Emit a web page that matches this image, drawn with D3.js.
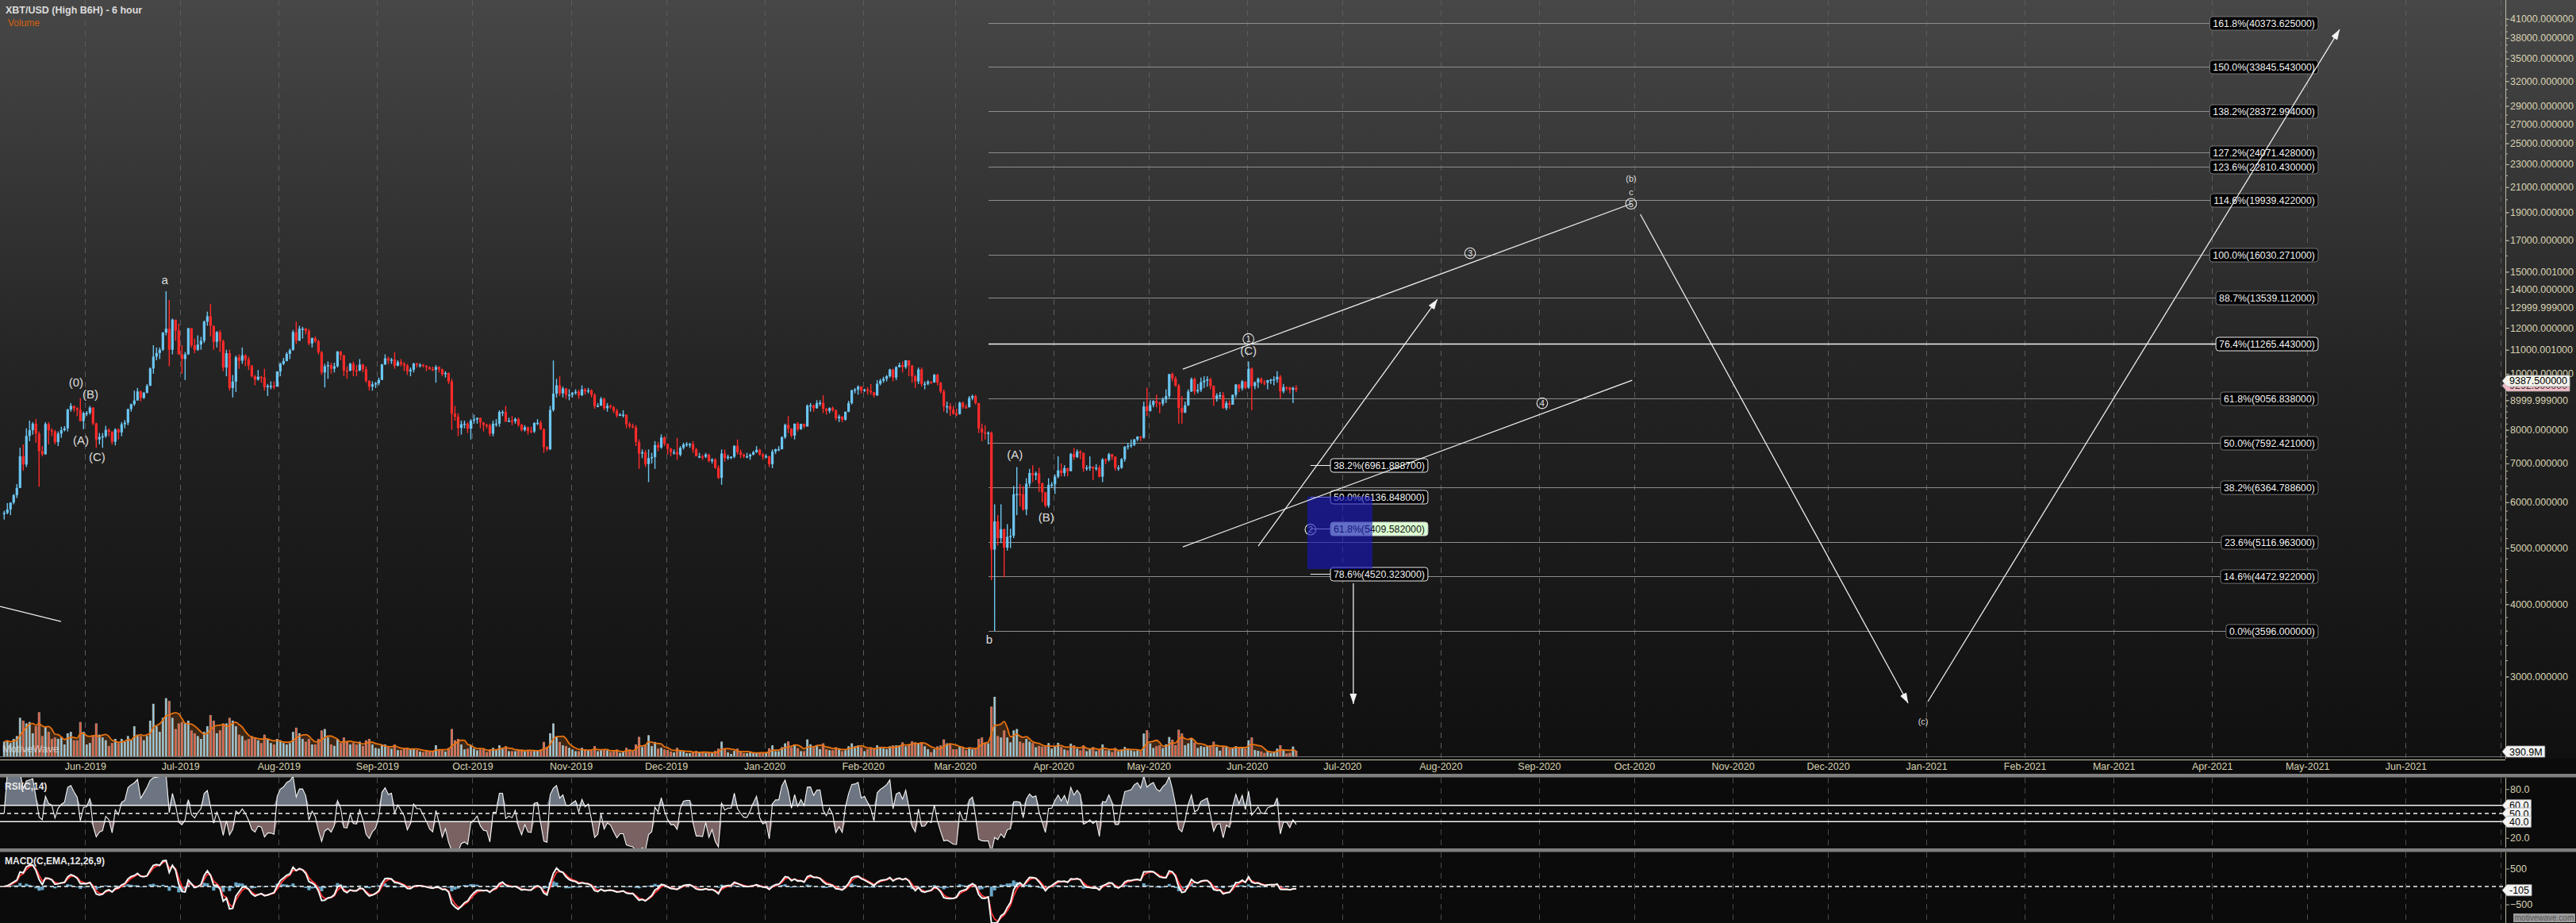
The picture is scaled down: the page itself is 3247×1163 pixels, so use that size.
<!DOCTYPE html>
<html><head><meta charset="utf-8">
<script src="https://cdnjs.cloudflare.com/ajax/libs/d3/7.8.5/d3.min.js"></script>
<style>
html,body{margin:0;padding:0;background:#0b0b0b;overflow:hidden}
svg{display:block}
text{font-family:"Liberation Sans",Arial,sans-serif}
</style></head><body>
<svg id="chart" width="3247" height="1163"></svg>
<script>
// ---------------- DATA (daily rows: [high, low, close, volume(M)]) ----------------
const bars2019May=[[5800,5600,5750,1100],[5980,5720,5830,1200],[6000,5700,5990,1000],[6200,5950,6170,1300],[6450,6100,6350,1500],[7450,6350,7200,2800],[7550,6800,6970,2600],[8050,6900,7810,2400],[8300,7650,7990,2500],[8250,7850,8200,1700],[8350,7600,7880,2200],[7950,6380,7350,3200],[7500,7200,7260,1500],[8250,7250,8190,2200],[8250,7550,7990,1800],[8050,7800,7950,1300],[8000,7550,7620,1400],[7950,7500,7880,1300],[8100,7750,7990,1400],[8120,7950,8050,900],[8700,7950,8670,1700],[8900,8600,8800,1800],[8800,8600,8720,1200],[8750,8450,8660,1200],[9070,8300,8280,2500],[8600,8020,8550,1800]];
const bars2019Jun=[[8620,8450,8560,900],[8800,8500,8740,1000],[8750,8150,8210,1500],[8230,7450,7700,2400],[7900,7550,7780,1600],[7900,7450,7800,1400],[8130,7750,8000,1200],[8050,7800,7940,800],[7960,7550,7630,1000],[8050,7520,8010,1300],[8050,7700,7920,1000],[8250,7800,8180,1300],[8320,8050,8230,1100],[8700,8150,8690,1500],[8880,8600,8860,1200],[9350,8800,8990,2200],[9450,8990,9320,1600],[9350,8950,9080,1500],[9300,9050,9270,1200],[9600,9250,9530,1500],[10250,9530,10210,2600],[11200,10000,10700,3800],[11100,10550,10860,2200],[11100,10600,11000,1800],[11800,10950,11780,2800],[13880,11650,11960,4200],[13400,10300,11000,4000],[12450,10800,12400,2800],[12300,11400,11870,2000],[12200,10800,10800,2400]];
const bars2019Jul=[[11200,10000,10600,2500],[10900,9750,10800,2400],[12000,10780,11980,2600],[12000,11100,11200,1900],[11500,10850,11000,1700],[11650,10950,11230,1500],[11580,11000,11400,1300],[12350,11300,12300,1800],[12800,12100,12570,2200],[13200,11600,12100,3000],[12100,11000,11350,2600],[11850,11100,11800,1700],[11900,10900,11390,1900],[11450,10100,10250,2400],[11000,9900,10850,2400],[11000,9350,9450,2800],[9950,9100,9690,2600],[10750,9300,10670,2200],[10800,10200,10530,1600],[11100,10400,10760,1500],[10800,10300,10590,1200],[10700,10150,10330,1300],[10350,9850,9900,1500],[9950,9550,9770,1400],[10150,9730,9880,1200],[9900,9650,9850,1000],[10200,9350,9480,1600],[9600,9150,9530,1300],[9700,9400,9530,1000],[9700,9400,9500,900],[10100,9500,10090,1300]];
const bars2019Aug=[[10450,9900,10400,1200],[10650,10350,10520,1000],[10900,10500,10820,900],[11050,10600,10980,1000],[11900,10980,11800,1800],[12300,11250,11400,2100],[12100,11400,11960,1700],[12050,11500,11960,1300],[12000,11700,11850,1100],[11950,11200,11280,1300],[11550,11100,11520,900],[11600,11300,11380,900],[11450,10800,10890,1300],[10950,9950,10050,1900],[10400,9470,10300,2000],[10500,9800,10350,1400],[10450,10000,10200,900],[10450,10050,10300,800],[10950,10250,10920,1300],[10950,10550,10760,1000],[10780,9900,10130,1400],[10300,9800,10120,1100],[10450,10100,10400,900],[10500,9900,10140,1000],[10350,9900,10130,900],[10600,10100,10370,1100],[10400,10050,10180,800],[10300,9650,9720,1200],[9750,9350,9500,1300],[9700,9350,9590,900],[9680,9450,9630,650]];
const bars2019Sep=[[9850,9550,9760,600],[10400,9750,10380,900],[10800,10350,10630,900],[10700,10400,10540,700],[10650,10400,10580,600],[10900,10200,10320,900],[10550,10300,10470,500],[10600,10300,10400,500],[10480,10100,10330,600],[10400,9950,10100,650],[10250,9900,10160,600],[10450,10050,10410,600],[10450,10250,10360,500],[10430,10250,10360,400],[10400,10250,10310,350],[10350,10100,10260,500],[10300,10150,10190,400],[10280,10100,10160,400],[10350,9650,10270,850],[10300,10050,10180,500],[10200,9900,9980,500],[10100,9850,10030,400],[10050,9600,9700,650],[9800,8000,8530,2000],[8800,8300,8430,1200],[8550,7800,8060,1300],[8300,7850,8180,900],[8300,8050,8200,550],[8250,7900,8040,600],[8350,7700,8300,850]];
const bars2019Oct=[[8500,8200,8340,600],[8400,8200,8390,480],[8400,8050,8240,540],[8250,7950,8160,540],[8200,8050,8150,360],[8200,7800,7880,540],[8300,7800,8200,660],[8350,8100,8200,540],[8650,8100,8590,840],[8650,8450,8590,600],[8800,8250,8270,780],[8400,8250,8300,420],[8450,8150,8280,420],[8400,8200,8350,420],[8400,8100,8160,540],[8200,7950,8000,540],[8150,7950,8080,420],[8100,7850,7960,480],[8100,7900,7950,420],[8250,7900,8220,480],[8350,8150,8230,480],[8300,8000,8020,540],[8050,7300,7470,1080],[7500,7350,7410,720],[8800,7380,8660,1700],[10540,8600,9240,2400],[9800,9100,9550,1440],[9900,9150,9250,1080],[9500,9100,9430,840],[9450,9050,9200,780],[9400,9000,9200,660]];
const bars2019Nov=[[9300,9100,9260,540],[9400,9200,9310,420],[9380,9050,9180,420],[9550,9150,9400,660],[9450,9200,9320,540],[9450,9250,9360,480],[9400,9100,9200,480],[9250,8700,8780,780],[8900,8750,8810,420],[9120,8800,9050,480],[9100,8650,8720,540],[8900,8600,8800,480],[8850,8700,8760,360],[8800,8550,8630,420],[8700,8400,8470,540],[8550,8450,8500,300],[8650,8400,8500,360],[8500,8050,8180,660],[8250,8050,8120,540],[8200,8050,8080,420],[8150,7500,7620,900],[7700,6850,7280,1440],[7400,7150,7320,720],[7380,6900,6980,840],[7400,6500,7150,1560],[7300,7000,7180,780],[7650,6850,7530,1080],[7620,7350,7460,600],[7860,7420,7760,660],[7800,7500,7570,540]];
const bars2019Dec=[[7570,7250,7420,500],[7450,7200,7320,390],[7400,7250,7320,330],[7750,7100,7250,660],[7500,7200,7450,440],[7600,7400,7550,390],[7620,7480,7560,280],[7600,7450,7560,280],[7650,7300,7400,390],[7450,7200,7200,440],[7300,7150,7200,330],[7250,7100,7190,330],[7300,7150,7250,280],[7280,7030,7070,330],[7150,7000,7110,280],[7150,6850,6880,440],[6950,6580,6610,600],[7400,6430,7280,1100],[7400,7050,7150,600],[7250,7100,7190,330],[7200,7120,7190,220],[7520,7150,7510,440],[7700,7250,7320,600],[7400,7150,7250,390],[7280,7150,7200,280],[7300,7150,7200,280],[7280,7100,7250,330],[7360,7230,7320,280],[7500,7300,7390,330],[7420,7220,7250,330],[7300,7100,7190,330]];
const bars2020Jan=[[7260,7150,7200,280],[7220,6900,6980,630],[7400,6870,7340,840],[7420,7270,7410,420],[7500,7350,7410,420],[7800,7400,7770,700],[8200,7720,8160,980],[8450,7900,8040,1120],[8050,7760,7820,700],[8200,7700,8200,840],[8250,7950,8020,630],[8200,8000,8190,420],[8200,8050,8110,420],[8850,8100,8810,1260],[8900,8600,8820,910],[8850,8600,8720,700],[9000,8700,8900,840],[9000,8800,8910,560],[9180,8550,8700,980],[8730,8500,8630,560],[8750,8550,8720,490],[8780,8600,8660,490],[8650,8300,8380,700],[8500,8250,8430,630],[8450,8250,8330,420],[8600,8300,8600,490],[8980,8580,8900,770],[9390,8850,9360,980],[9450,9250,9390,770],[9550,9200,9500,840],[9520,9250,9350,700]];
const bars2020Feb=[[9420,9300,9390,420],[9480,9200,9340,560],[9600,9200,9290,700],[9300,9100,9180,630],[9750,9150,9610,840],[9800,9550,9730,700],[9880,9650,9800,630],[9950,9700,9900,560],[10200,9850,10170,770],[10200,9700,9850,840],[10300,9750,10270,840],[10450,10250,10350,840],[10500,10050,10270,1050],[10550,10200,10550,770],[10500,9900,10330,910],[10350,9650,9900,1120],[9950,9450,9700,1050],[10250,9600,10170,980],[10250,9500,9600,1050],[9700,9400,9610,770],[9750,9550,9690,560],[9700,9600,9660,350],[9990,9650,9960,560],[10000,9550,9650,770],[9680,9250,9320,840],[9400,8600,8780,1260],[8950,8550,8790,980],[8900,8450,8670,910],[8800,8500,8530,560]];
const bars2020Mar=[[8700,8450,8520,560],[8950,8500,8910,770],[8950,8700,8760,700],[8850,8700,8750,490],[9150,8750,9080,700],[9200,9000,9150,560],[9200,8850,8900,630],[8900,7900,8040,1300],[8200,7650,7920,1400],[8150,7700,7910,1050],[7950,7550,7910,980],[7950,4400,4970,3600],[5950,3596,5560,4300],[5700,5050,5200,1500],[5950,5100,5390,1400],[5400,4450,5010,1900],[5500,4950,5230,1400],[5400,5000,5250,1050],[6400,5200,6190,1900],[6900,5700,6200,2000],[6450,5900,6190,1100],[6400,5800,5830,1000],[6600,5700,6460,1300],[6850,6380,6740,1100],[6950,6500,6680,1000],[6780,6550,6730,700],[6880,6250,6470,800],[6480,6000,6240,750],[6250,5880,5920,750],[6600,5870,6430,1000],[6500,6350,6440,600]];
const bars2020Apr=[[6700,6200,6640,780],[7200,6600,6810,1020],[7000,6650,6740,720],[6950,6650,6870,540],[6880,6650,6790,480],[7300,6780,7270,960],[7450,7100,7180,840],[7400,7150,7340,600],[7380,7120,7300,480],[7300,6770,6860,840],[6950,6800,6880,420],[7200,6800,6910,600],[6920,6550,6860,720],[6980,6800,6880,420],[6950,6620,6640,540],[7150,6500,7110,900],[7150,6980,7100,480],[7300,7050,7260,480],[7270,7100,7190,360],[7200,6800,6880,660],[6950,6800,6880,420],[7150,6850,7120,540],[7500,7050,7480,720],[7600,7400,7510,540],[7700,7450,7540,480],[7720,7500,7700,420],[7800,7650,7790,480],[7800,7650,7760,420],[8950,7720,8780,1680],[9460,8450,8620,1920]];
const bars2020May=[[9000,8600,8830,980],[9000,8750,8970,650],[9200,8750,8900,780],[8950,8550,8880,850],[9100,8800,9030,650],[9400,8900,9150,910],[9950,9050,9990,1430],[10050,9700,9810,1240],[9900,9500,9540,850],[9600,8200,8730,1950],[9150,8200,8570,1690],[8950,8550,8820,850],[9400,8800,9320,980],[9850,9300,9790,1300],[9850,9200,9320,1040],[9600,9250,9380,650],[9850,9300,9670,780],[9900,9450,9730,720],[9900,9500,9780,780],[9850,9400,9520,850],[9550,8800,9060,1100],[9250,8950,9170,720],[9300,9050,9180,460],[9300,8700,8720,780],[8980,8650,8900,720],[9000,8700,8840,590],[9200,8850,9200,650],[9600,9100,9580,780],[9600,9300,9430,650],[9750,9350,9700,720],[9700,9400,9460,590]];
const bars2020Jun=[[10500,9420,10200,1200],[10250,8650,9520,1400],[9700,9400,9660,500],[9850,9450,9800,450],[9850,9600,9660,400],[9750,9550,9650,300],[9750,9400,9750,450],[9800,9600,9770,300],[9900,9550,9780,350],[10100,9650,9880,600],[9950,9050,9320,850],[9600,9250,9480,450],[9500,9350,9470,250],[9500,9250,9380,300],[9500,8900,9450,750],[9550,9300,9390,450]];
const monthStarts=["2019-05-06","2019-06-01","2019-07-01","2019-08-01","2019-09-01","2019-10-01","2019-11-01","2019-12-01","2020-01-01","2020-02-01","2020-03-01","2020-04-01","2020-05-01","2020-06-01"];
const monthRows=[bars2019May,bars2019Jun,bars2019Jul,bars2019Aug,bars2019Sep,bars2019Oct,bars2019Nov,bars2019Dec,bars2020Jan,bars2020Feb,bars2020Mar,bars2020Apr,bars2020May,bars2020Jun];

// axis tick values
const priceTicks=[41000,38000,35000,32000,29000,27000,25000,23000,21000,19000,17000,15000.001,14000,12999.999,12000,11000.001,10000,8999.999,8000,7000,6000,5000,4000,3000];
const rsiTicks=[80,20];
const rsiLevels=[60,50,40];
const macdTicks=[500,-500];
const lastPrice=9387.5, lastPrice2=9292.5, lastVolume="390.9M", lastMacd=-105;

// fibonacci projection levels
const fibPct=["161.8%","150.0%","138.2%","127.2%","123.6%","114.6%","100.0%","88.7%","76.4%","61.8%","50.0%","38.2%","23.6%","14.6%","0.0%"];
const fibVal=[40373.625,33845.543,28372.994,24071.428,22810.430,19939.422,16030.271,13539.112,11265.443,9056.838,7592.421,6364.7886,5116.963,4472.922,3596.0];
const fibStart="2020-03-11T14:00Z", fibEnd="2021-05-04T10:00Z";
// wave-2 retracement
const fib2Pct=["38.2%","50.0%","61.8%","78.6%"];
const fib2Val=[6961.8887,6136.848,5409.582,4520.323];
const fib2Start="2020-06-21T00:00Z", fib2End="2020-07-28T00:00Z";
const wave2Box={t0:"2020-06-20T00:00Z",t1:"2020-07-10T12:00Z",p0:6136.848,p1:4600};

// projected paths [t1,p1,t2,p2,arrow]
const waveLines=[
 ["2020-05-11T19:00Z",10185,"2020-09-30T00:00Z",19654,false],
 ["2020-05-11T19:00Z",5024,"2020-09-30T08:00Z",9744,false],
 ["2020-06-04T13:00Z",5041,"2020-07-31T00:00Z",13445,true],
 ["2020-10-02T22:00Z",18846,"2020-12-26T07:00Z",2699,true],
 ["2021-01-01T12:00Z",2716,"2021-05-11T05:00Z",39300,true],
 ["2020-07-04T12:00Z",4346,"2020-07-04T12:00Z",2690,true],
 ["2019-05-05T05:00Z",3966,"2019-05-24T10:00Z",3735,false]
];
// wave labels [text, time, price, style]
const waveLabels=[
 ["(0)","2019-05-29T04:00Z",9652,"serif"],["(B)","2019-06-02T16:00Z",9207,"serif"],
 ["(A)","2019-05-30T16:00Z",7669,"serif"],["(C)","2019-06-04T18:00Z",7183,"serif"],
 ["a","2019-06-26T02:00Z",14513,"serif"],["(A)","2020-03-19T22:00Z",7252,"serif"],
 ["(B)","2020-03-29T18:00Z",5651,"serif"],["b","2020-03-11T20:00Z",3477,"serif"],
 ["(C)","2020-06-01T11:00Z",10953,"serif"],["(b)","2020-09-30T00:00Z",21720,"sans"],
 ["c","2020-09-30T00:00Z",20595,"sans"],["(c)","2020-12-31T00:00Z",2510,"sans"]
];
const circleLabels=[["1","2020-06-01T11:00Z",11481],["3","2020-08-10T07:00Z",16143],["4","2020-09-02T00:00Z",8893],["5","2020-09-30T00:00Z",19654]];
const circle2=["2","2020-06-21T00:00Z",5383];

// ---------------- BUILD ----------------
const W=3247,H=1163, axisX=3158, mainBottom=956;
const svg=d3.select("#chart");
const defs=svg.append("defs");
const grad=defs.append("linearGradient").attr("id","bg").attr("x1",0).attr("y1",0).attr("x2",0).attr("y2",1);
grad.append("stop").attr("offset","0").attr("stop-color","#474747");
grad.append("stop").attr("offset","0.5").attr("stop-color","#232323");
grad.append("stop").attr("offset","1").attr("stop-color","#101010");
defs.append("marker").attr("id","arr").attr("markerUnits","userSpaceOnUse").attr("markerWidth",14).attr("markerHeight",10)
 .attr("refX",13).attr("refY",4.5).attr("orient","auto").append("path").attr("d","M0,0 L13,4.5 L0,9 Z").attr("fill","#f2f2f2");
defs.append("clipPath").attr("id","cr").append("rect").attr("x",0).attr("y",979).attr("width",axisX).attr("height",90);
defs.append("clipPath").attr("id","cm").append("rect").attr("x",0).attr("y",1073).attr("width",axisX).attr("height",90);

svg.append("rect").attr("width",W).attr("height",H).attr("fill","#0b0b0b");
svg.append("rect").attr("width",W).attr("height",mainBottom).attr("fill","url(#bg)");

const x=d3.scaleUtc().domain([Date.UTC(2019,5,1),Date.UTC(2020,10,1)]).range([107.3,2184]);
const y=d3.scaleLog().domain([3000,41000]).range([852.5,23.7]);
const yVol=d3.scaleLinear().domain([0,4300]).range([954,878]);
const yRsi=d3.scaleLinear().domain([20,80]).range([1055.75,994.25]);
const yMacd=d3.scaleLinear().domain([-500,500]).range([1139.5,1094.5]);
const T=s=>new Date(s);

const bars=[];
monthStarts.forEach((s,k)=>{const t0=Date.parse(s+"T00:00:00Z");monthRows[k].forEach((r,i)=>bars.push({t:new Date(t0+i*864e5+12*36e5),h:r[0],l:r[1],c:r[2],v:r[3]}));});
bars.forEach((b,i)=>{b.o=i?bars[i-1].c:b.c;b.up=b.c>=b.o;});
const closes=bars.map(b=>b.c);

// gridlines
const months=d3.utcMonth.range(Date.UTC(2019,5,1),Date.UTC(2021,6,2));
const grid=svg.append("g").attr("stroke-dasharray","7,6").attr("stroke-width",1);
months.forEach(m=>{
 const xx=Math.round(x(m))+0.5;
 grid.append("line").attr("x1",xx).attr("x2",xx).attr("y1",0).attr("y2",955).attr("stroke","#5b5b5b");
 grid.append("line").attr("x1",xx).attr("x2",xx).attr("y1",980).attr("y2",1068).attr("stroke","#4a4a4a");
 grid.append("line").attr("x1",xx).attr("x2",xx).attr("y1",1074).attr("y2",1163).attr("stroke","#4a4a4a");
});

// fib projection lines
const gFib=svg.append("g");
function boxLabel(g,xr,yy,txt,fill,stroke,color){
 const gg=g.append("g");const r=gg.append("rect");
 const t=gg.append("text").attr("x",xr-4).attr("y",yy).attr("dy","0.36em").attr("text-anchor","end").attr("font-size",12.3).attr("fill",color).text(txt);
 const w=t.node().getComputedTextLength();
 r.attr("x",xr-w-8).attr("y",yy-8.5).attr("width",w+8).attr("height",17).attr("rx",3.5).attr("fill",fill).attr("stroke",stroke).attr("stroke-width",1);
}
fibPct.forEach((p,i)=>{
 const yy=Math.round(y(fibVal[i]))+0.5, key=p==="76.4%";
 gFib.append("line").attr("x1",x(T(fibStart))).attr("x2",x(T(fibEnd))-20).attr("y1",yy).attr("y2",yy)
  .attr("stroke",key?"#f4f4f4":"#8d8d8d").attr("stroke-width",key?1.6:1);
 boxLabel(gFib,x(T(fibEnd)),yy,`${p}(${fibVal[i].toFixed(6)})`,"#000",key?"#eee":"#777","#f2f2f2");
});

// volume
const gVol=svg.append("g");
const volMA=bars.map((b,i)=>d3.mean(bars.slice(Math.max(0,i-4),i+1),d=>d.v));
gVol.append("path").datum(bars).attr("d",d3.area().x(d=>x(d.t)).y0(954).y1((d,i)=>yVol(volMA[i])).curve(d3.curveMonotoneX)).attr("fill","#3e2714");
gVol.selectAll("rect.vb").data(bars).join("rect").attr("class","vb").attr("x",d=>x(d.t)-1.5).attr("width",3)
 .attr("y",d=>yVol(d.v)).attr("height",d=>954-yVol(d.v)).attr("fill","#a8a190");
gVol.selectAll("rect.vc").data(bars).join("rect").attr("class","vc").attr("x",d=>x(d.t)-0.7).attr("width",1.4)
 .attr("y",d=>yVol(d.v)).attr("height",d=>954-yVol(d.v)).attr("fill",d=>d.up?"#8fcbe8":"#ea5038");
gVol.append("path").datum(bars).attr("d",d3.line().x(d=>x(d.t)).y((d,i)=>yVol(volMA[i])).curve(d3.curveMonotoneX))
 .attr("fill","none").attr("stroke","#e8720e").attr("stroke-width",1.8);
svg.append("line").attr("x1",0).attr("x2",axisX).attr("y1",953.5).attr("y2",953.5).attr("stroke","#6f6f6f");
svg.append("line").attr("x1",0).attr("x2",axisX).attr("y1",957.5).attr("y2",957.5).attr("stroke","#cfc9b0");
svg.append("text").attr("x",3).attr("y",948).attr("font-size",13).attr("fill","#e0e0e0").attr("opacity",0.75).text("MotiveWave");

// price bars
const gBars=svg.append("g");
gBars.selectAll("rect.w").data(bars).join("rect").attr("class","w").attr("x",d=>x(d.t)-0.7).attr("width",1.4)
 .attr("y",d=>y(d.h)).attr("height",d=>Math.max(1,y(d.l)-y(d.h))).attr("fill",d=>d.up?"#6cc6f2":"#ff2a2a");
gBars.selectAll("rect.b").data(bars).join("rect").attr("class","b").attr("x",d=>x(d.t)-1.6).attr("width",3.2)
 .attr("y",d=>y(Math.max(d.o,d.c))).attr("height",d=>Math.max(1.5,Math.abs(y(d.o)-y(d.c)))).attr("fill",d=>d.up?"#6cc6f2":"#ff2a2a");

// wave-2 retracement (under translucent box)
const gF2=svg.append("g");
fib2Pct.forEach((p,i)=>{
 const yy=Math.round(y(fib2Val[i]))+0.5, hi=p==="61.8%";
 gF2.append("line").attr("x1",x(T(fib2Start))).attr("x2",x(T(fib2End))-60).attr("y1",yy).attr("y2",yy).attr("stroke","#f0f0f0").attr("stroke-width",1.2);
 boxLabel(gF2,x(T(fib2End)),yy,`${p}(${fib2Val[i].toFixed(6)})`,hi?"#dcffd2":"#000",hi?"#cfcfcf":"#eee",hi?"#111":"#f2f2f2");
});
function circ(g,txt,t,p,col){
 const cx=x(T(t)),cy=y(p);
 g.append("circle").attr("cx",cx).attr("cy",cy).attr("r",6.8).attr("fill","none").attr("stroke",col).attr("stroke-width",1.1);
 g.append("text").attr("x",cx).attr("y",cy).attr("dy","0.36em").attr("text-anchor","middle").attr("font-size",10.5).attr("fill",col).text(txt);
}
circ(gF2,circle2[0],circle2[1],circle2[2],"#f0f0f0");
svg.append("rect").attr("x",x(T(wave2Box.t0))).attr("width",x(T(wave2Box.t1))-x(T(wave2Box.t0)))
 .attr("y",y(wave2Box.p0)).attr("height",y(wave2Box.p1)-y(wave2Box.p0)).attr("fill","rgb(22,22,190)").attr("opacity",0.62);

// projection lines
const gW=svg.append("g");
waveLines.forEach(([t1,p1,t2,p2,a])=>{
 const l=gW.append("line").attr("x1",x(T(t1))).attr("y1",y(p1)).attr("x2",x(T(t2))).attr("y2",y(p2)).attr("stroke","#ececec").attr("stroke-width",1.3);
 if(a)l.attr("marker-end","url(#arr)");
});
waveLabels.forEach(([txt,t,p,st])=>{
 gW.append("text").attr("x",x(T(t))).attr("y",y(p)).attr("dy","0.35em").attr("text-anchor","middle")
  .attr("font-family",st==="serif"?"'Liberation Serif','DejaVu Serif',serif":"'Liberation Sans',Arial,sans-serif")
  .attr("font-size",st==="serif"?15:11).attr("fill","#dedede").text(txt);
});
circleLabels.forEach(([txt,t,p])=>circ(gW,txt,t,p,"#e6e6e6"));

// separators / panels
svg.append("rect").attr("x",0).attr("y",975).attr("width",W).attr("height",4.5).attr("fill","#7e7e7e");
svg.append("rect").attr("x",0).attr("y",1069).attr("width",W).attr("height",4.5).attr("fill","#7e7e7e");

// x axis
const xAxis=d3.axisBottom(x).tickValues(months.filter(m=>m<Date.UTC(2021,6,1))).tickFormat(d3.utcFormat("%b-%Y")).tickSize(0).tickPadding(0);
const gx=svg.append("g").attr("transform","translate(0,961)").call(xAxis);
gx.select(".domain").remove();
gx.selectAll("text").attr("fill","#d8d2b2").attr("font-size",12.5).attr("font-family","'Liberation Sans',Arial,sans-serif");

// RSI
function calcRsi(v,n){const out=[];let ag=0,al=0;for(let i=0;i<v.length;i++){if(i===0){out.push(50);continue;}const ch=v[i]-v[i-1],g=Math.max(ch,0),l=Math.max(-ch,0);if(i<=n){ag+=g/n;al+=l/n;}else{ag=(ag*(n-1)+g)/n;al=(al*(n-1)+l)/n;}out.push(al===0?100:100-100/(1+ag/al));}return out;}
const rsi=calcRsi(closes,4);
const gR=svg.append("g").attr("clip-path","url(#cr)");
gR.append("path").datum(rsi).attr("d",d3.area().x((d,i)=>x(bars[i].t)).y0(yRsi(60)).y1(d=>yRsi(Math.max(60,d)))).attr("fill","#6c7581");
gR.append("path").datum(rsi).attr("d",d3.area().x((d,i)=>x(bars[i].t)).y0(yRsi(40)).y1(d=>yRsi(Math.min(40,d)))).attr("fill","#7a6262");
rsiLevels.forEach(v=>gR.append("line").attr("x1",0).attr("x2",axisX).attr("y1",yRsi(v)).attr("y2",yRsi(v)).attr("stroke","#f2f2f2").attr("stroke-width",1.6).attr("stroke-dasharray",v===50?"5,4":null));
gR.append("path").datum(rsi).attr("d",d3.line().x((d,i)=>x(bars[i].t)).y(d=>yRsi(d))).attr("fill","none").attr("stroke","#f4f4f4").attr("stroke-width",1.1);
svg.append("text").attr("x",6).attr("y",995).attr("font-size",12).attr("font-weight","bold").attr("fill","#e8e8e8").text("RSI(C,14)");

// MACD
function ema(v,n){const a=2/(n+1),o=[];v.forEach((d,i)=>o.push(i?a*d+(1-a)*o[i-1]:d));return o;}
const fast=ema(closes,3),slow=ema(closes,7.5);
const macd=fast.map((d,i)=>d-slow[i]);const sig=ema(macd,2.25);const hist=macd.map((d,i)=>d-sig[i]);
const gM=svg.append("g").attr("clip-path","url(#cm)");
gM.selectAll("rect").data(hist).join("rect").attr("x",(d,i)=>x(bars[i].t)-2).attr("width",4)
 .attr("y",d=>Math.min(yMacd(0),yMacd(d))).attr("height",d=>Math.abs(yMacd(d)-yMacd(0))).attr("fill","#6aa7c6");
gM.append("line").attr("x1",0).attr("x2",axisX).attr("y1",yMacd(0)).attr("y2",yMacd(0)).attr("stroke","#f2f2f2").attr("stroke-width",1.4).attr("stroke-dasharray","5,4");
gM.append("path").datum(sig).attr("d",d3.line().x((d,i)=>x(bars[i].t)).y(d=>yMacd(d))).attr("fill","none").attr("stroke","#ff3434").attr("stroke-width",1.8);
gM.append("path").datum(macd).attr("d",d3.line().x((d,i)=>x(bars[i].t)).y(d=>yMacd(d))).attr("fill","none").attr("stroke","#f6f6f6").attr("stroke-width",2);
svg.append("text").attr("x",6).attr("y",1089).attr("font-size",12).attr("font-weight","bold").attr("fill","#e8e8e8").text("MACD(C,EMA,12,26,9)");

// right axes
const axCol="#d8d2b2";
[[0,956],[980,1068],[1074,1163]].forEach(([a,b])=>svg.append("line").attr("x1",axisX+0.5).attr("x2",axisX+0.5).attr("y1",a).attr("y2",b).attr("stroke","#bdb8a0"));
const minor=[];for(let v=3000;v<10000;v+=200)minor.push(v);for(let v=10000;v<=41000;v+=1000)minor.push(v);
const gMin=svg.append("g").attr("transform",`translate(${axisX},0)`).call(d3.axisRight(y).tickValues(minor).tickFormat("").tickSize(3));
gMin.select(".domain").remove();gMin.selectAll("line").attr("stroke","#bdb8a0");
const gy=svg.append("g").attr("transform",`translate(${axisX},0)`).call(d3.axisRight(y).tickValues(priceTicks).tickFormat(d=>d.toFixed(6)).tickSize(5).tickPadding(1));
gy.select(".domain").remove();gy.selectAll("line").attr("stroke","#bdb8a0");
gy.selectAll("text").attr("fill",axCol).attr("font-size",12.5).attr("font-family","'Liberation Sans',Arial,sans-serif");
const gyr=svg.append("g").attr("transform",`translate(${axisX},0)`).call(d3.axisRight(yRsi).tickValues(rsiTicks).tickFormat(d3.format(".1f")).tickSize(5).tickPadding(1));
gyr.select(".domain").remove();gyr.selectAll("line").attr("stroke","#bdb8a0");gyr.selectAll("text").attr("fill",axCol).attr("font-size",12.5);
const gym=svg.append("g").attr("transform",`translate(${axisX},0)`).call(d3.axisRight(yMacd).tickValues(macdTicks).tickFormat(d3.format("d")).tickSize(5).tickPadding(1));
gym.select(".domain").remove();gym.selectAll("line").attr("stroke","#bdb8a0");gym.selectAll("text").attr("fill",axCol).attr("font-size",12.5);

function tag(yy,txt,fill,color){
 const x0=axisX-4,g=svg.append("g"),p=g.append("path");
 const t=g.append("text").attr("x",x0+9).attr("y",yy).attr("dy","0.36em").attr("font-size",12.5).attr("fill",color).text(txt);
 const w=t.node().getComputedTextLength();
 p.attr("d",`M${x0},${yy} L${x0+6},${yy-7} L${x0+12+w},${yy-7} L${x0+12+w},${yy+7} L${x0+6},${yy+7} Z`).attr("fill",fill).attr("stroke","#aaa").attr("stroke-width",0.8);
}
tag(y(lastPrice)-5,lastPrice2.toFixed(6),"#f3b9c3","#333");
tag(y(lastPrice)-11,lastPrice.toFixed(6),"#f4f4ec","#000");
tag(947,lastVolume,"#f4f4f4","#000");
rsiLevels.forEach(v=>tag(yRsi(v),v.toFixed(1),"#f4f4f4","#000"));
tag(yMacd(lastMacd),String(lastMacd),"#f4f4f4","#000");

svg.append("rect").attr("x",3168).attr("y",1151).attr("width",78).attr("height",11).attr("fill","#9a9a9a");
svg.append("text").attr("x",3207).attr("y",1160).attr("text-anchor","middle").attr("font-size",10).attr("fill","#555").text("motivewave.com");

// titles
svg.append("text").attr("x",7).attr("y",17).attr("font-size",12.5).attr("font-weight","bold").attr("fill","#dcdcdc").text("XBT/USD (High B6H) - 6 hour");
svg.append("text").attr("x",10).attr("y",33).attr("font-size",12).attr("fill","#d4600c").text("Volume");
</script></body></html>
